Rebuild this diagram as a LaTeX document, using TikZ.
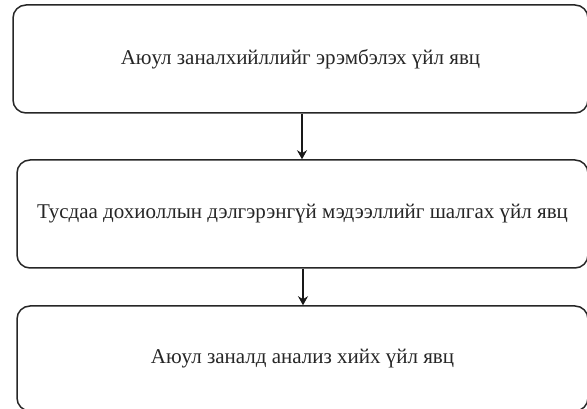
\documentclass[tikz,border=0pt]{standalone}
\usepackage{fontspec}
\setmainfont{Liberation Serif}
\usetikzlibrary{arrows.meta}
\begin{document}
\begin{tikzpicture}[x=1pt,y=1pt,
  procbox/.style={draw=black!85, line width=1.5pt, rounded corners=13pt, fill=white,
    inner sep=0pt, font=\fontsize{21}{25}\selectfont, text=black!85},
  flow/.style={draw=black!90, line width=1.3pt, -{Stealth[length=9pt,width=10pt]}}]
\useasboundingbox (0,0) rectangle (587,409);
\node[procbox, minimum width=575pt, minimum height=108pt] (b1) at (300.5,350) {Аюул заналхийллийг эрэмбэлэх үйл явц};
\node[procbox, minimum width=571pt, minimum height=108pt] (b2) at (302.5,195) {Тусдаа дохиоллын дэлгэрэнгүй мэдээллийг шалгах үйл явц};
\node[procbox, minimum width=571pt, minimum height=105pt] (b3) at (302.5,50.5) {Аюул заналд анализ хийх үйл явц};
\draw[flow] (b1.south -| 302,0) -- (b2.north -| 302,0);
\draw[flow] (b2.south -| 303,0) -- (b3.north -| 303,0);
\end{tikzpicture}
\end{document}
